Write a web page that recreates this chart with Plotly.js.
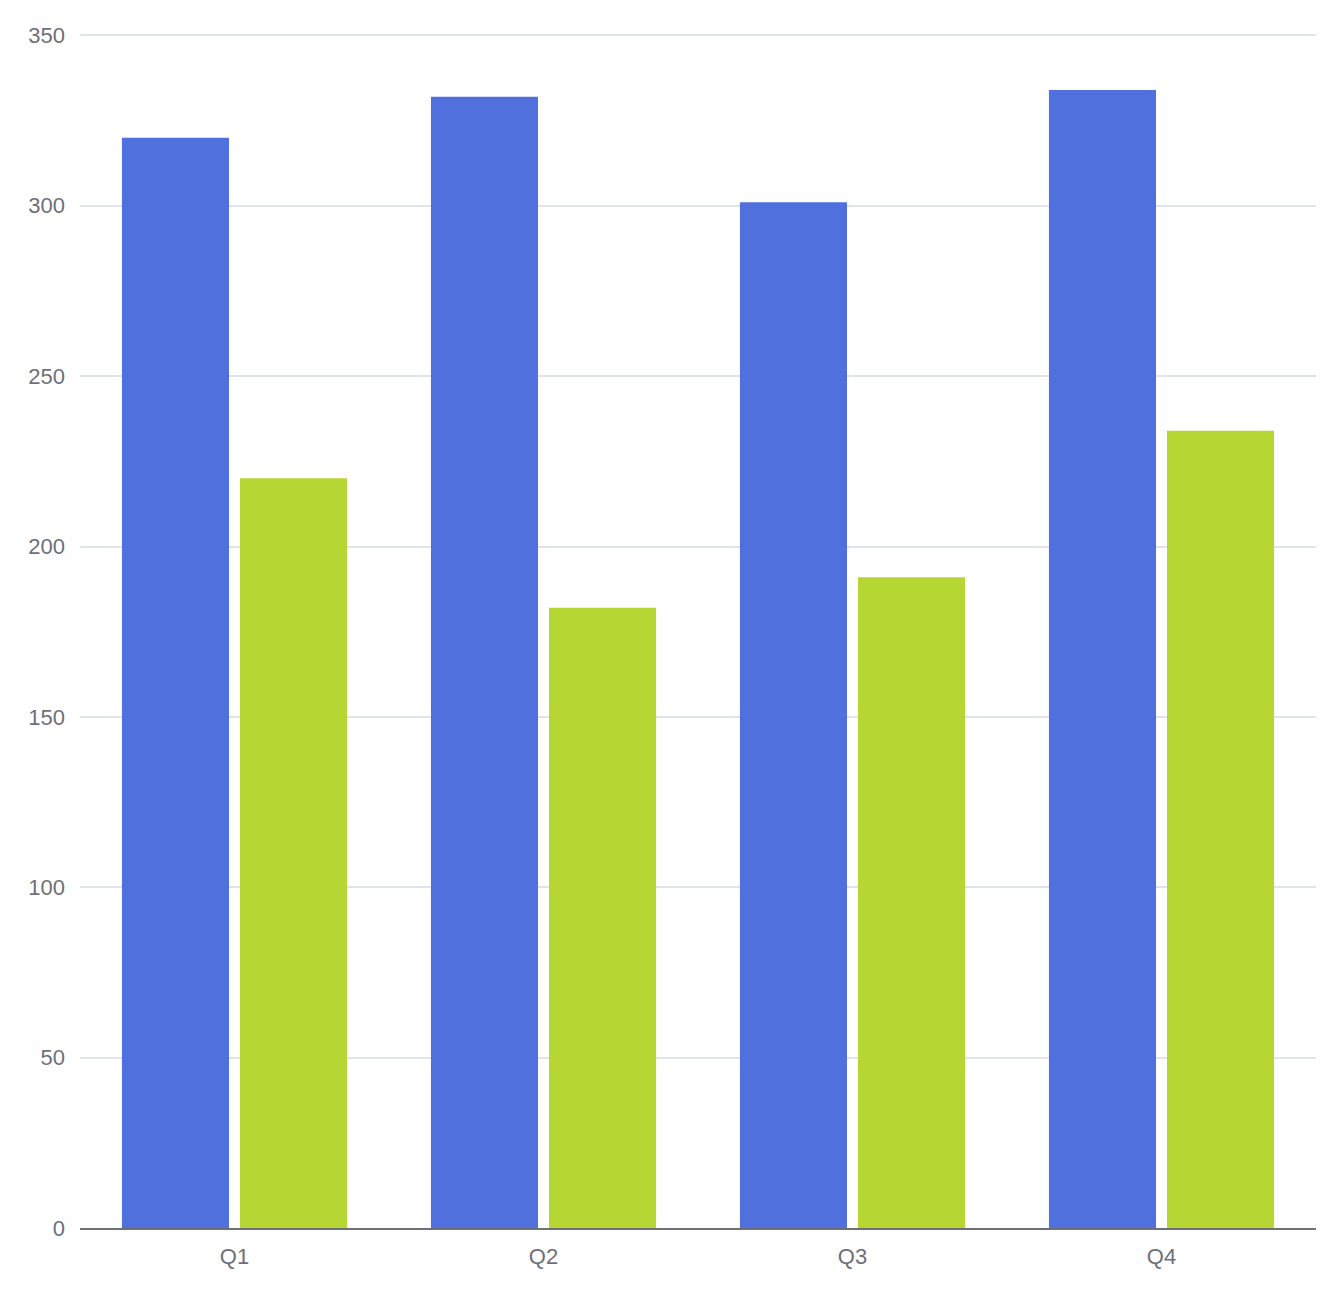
<!DOCTYPE html>
<html>
<head>
<meta charset="utf-8">
<script src="https://cdn.plot.ly/plotly-3.0.1.min.js"></script>
<style>
    html, body { margin: 0; padding: 0; background: #ffffff; }
    #chart { width: 1342px; height: 1290px; }
</style>
</head>
<body>
<div id="chart"></div>
<script>
// Chart data
const quarters = ['Q1', 'Q2', 'Q3', 'Q4'];
const seriesA = [320, 332, 301, 334];
const seriesB = [220, 182, 191, 234];
const yTicks = [0, 50, 100, 150, 200, 250, 300, 350];

const traceA = {
    x: quarters,
    y: seriesA,
    type: 'bar',
    name: 'Series A',
    marker: { color: '#5070dd' },
    hoverinfo: 'skip'
};

const traceB = {
    x: quarters,
    y: seriesB,
    type: 'bar',
    name: 'Series B',
    marker: { color: '#b6d634' },
    hoverinfo: 'skip'
};

const layout = {
    width: 1342,
    height: 1290,
    paper_bgcolor: '#ffffff',
    plot_bgcolor: '#ffffff',
    font: { family: 'Liberation Sans, Arial, sans-serif', size: 22, color: '#6e7079' },
    barmode: 'group',
    bargap: 0.236,
    bargroupgap: 0.093,
    showlegend: false,
    // small pad above 350 so its gridline is drawn
    margin: { t: 32, b: 62, l: 80, r: 26 },
    xaxis: {
        showgrid: false,
        showline: true,
        linecolor: '#6e7079',
        linewidth: 2,
        ticks: '',
        ticklabelstandoff: 8,
        tickfont: { size: 22, color: '#6e7079' }
    },
    yaxis: {
        range: [0, 351],
        tickvals: yTicks,
        ticktext: yTicks.map(String),
        gridcolor: '#dfe3ec',
        gridwidth: 2,
        zeroline: false,
        showline: false,
        ticks: '',
        ticklabelstandoff: 14,
        tickfont: { size: 22, color: '#6e7079' }
    }
};

const config = { displayModeBar: false, staticPlot: true };

Plotly.newPlot('chart', [traceA, traceB], layout, config);
</script>
</body>
</html>
